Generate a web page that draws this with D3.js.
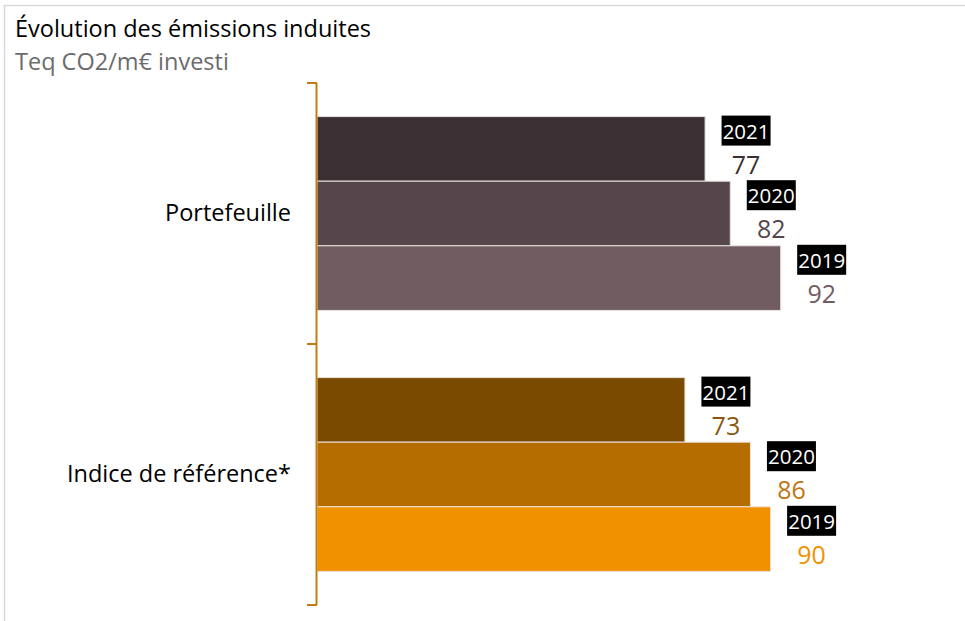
<!DOCTYPE html>
<html>
<head>
<meta charset="utf-8">
<script src="https://cdn.jsdelivr.net/npm/d3@7"></script>
<style>
  body { margin: 0; background: #fff; }
  text { font-family: "Open Sans", "Liberation Sans", sans-serif; }
</style>
</head>
<body>
<div id="chart"></div>
<script>
// data
var categories = ["Portefeuille", "Indice de référence*"];
var years = ["2021", "2020", "2019"];
var portefeuille = [77, 82, 92];
var indice = [73, 86, 90];

var colors = {
  "Portefeuille": ["#3b2f33", "#54464b", "#715c62"],
  "Indice de référence*": ["#7a4a00", "#b56d00", "#f29100"]
};
var valueColors = {
  "Portefeuille": ["#3b2f33", "#54464b", "#715c62"],
  "Indice de référence*": ["#8a5510", "#c07512", "#f29100"]
};

var rows = [];
categories.forEach(function(c, i) {
  var vals = i == 0 ? portefeuille : indice;
  years.forEach(function(y, j) {
    rows.push({cat: c, year: y, value: vals[j], j: j});
  });
});

var width = 965, height = 621;

var svg = d3.select("#chart").append("svg")
  .attr("width", width)
  .attr("height", height);

// frame
svg.append("line").attr("x1", 4.5).attr("x2", 4.5).attr("y1", 5).attr("y2", height)
  .attr("stroke", "#d9d9d9").attr("stroke-width", 1.5);
svg.append("line").attr("x1", 4).attr("x2", width).attr("y1", 5.5).attr("y2", 5.5)
  .attr("stroke", "#d9d9d9").attr("stroke-width", 1.5);

// titles
svg.append("text").attr("x", 15).attr("y", 37)
  .style("font-size", "23.5px").attr("fill", "#000")
  .text("Évolution des émissions induites");
svg.append("text").attr("x", 15).attr("y", 70)
  .style("font-size", "23.5px").attr("fill", "#6b6b6b")
  .text("Teq CO2/m€ investi");

var x0 = 317;
var x = d3.scaleLinear().domain([0, 100]).range([x0, x0 + 504]);

var y = d3.scaleBand().domain(categories).range([83, 605]);
var yInner = d3.scaleBand().domain(years).range([0, y.bandwidth()]).paddingOuter(0.52).paddingInner(0);

// bars
svg.selectAll("rect.bar").data(rows).enter().append("rect")
  .attr("class", "bar")
  .attr("x", x(0))
  .attr("y", function(d) { return y(d.cat) + yInner(d.year); })
  .attr("width", function(d) { return x(d.value) - x(0); })
  .attr("height", yInner.bandwidth())
  .attr("fill", function(d) { return colors[d.cat][d.j]; })
  .attr("stroke", "#e8e2dc")
  .attr("stroke-width", 1);

// labels
var lab = svg.selectAll("g.lab").data(rows).enter().append("g")
  .attr("class", "lab")
  .attr("transform", function(d) {
    return "translate(" + (x(d.value) + 41) + "," + (y(d.cat) + yInner(d.year)) + ")";
  });

lab.append("rect")
  .attr("x", -24.5).attr("y", -1)
  .attr("width", 49).attr("height", 30)
  .attr("fill", "#000");
lab.append("text")
  .attr("x", 0).attr("y", 22)
  .attr("text-anchor", "middle")
  .style("font-size", "20.5px")
  .attr("fill", "#fff")
  .text(function(d) { return d.year; });
lab.append("text")
  .attr("x", 0).attr("y", 57)
  .attr("text-anchor", "middle")
  .style("font-size", "25px")
  .attr("fill", function(d) { return valueColors[d.cat][d.j]; })
  .text(function(d) { return d.value; });

// axis
var axis = d3.axisLeft(y).tickSize(0).tickPadding(26);
var ax = svg.append("g").attr("transform", "translate(" + x0 + ",0)").call(axis);
ax.select(".domain").remove();
ax.selectAll("text").style("font-size", "23.5px").attr("fill", "#000")
  .style("font-family", "'Open Sans', 'Liberation Sans', sans-serif");

svg.append("line").attr("x1", x0 - 0.5).attr("x2", x0 - 0.5)
  .attr("y1", y.range()[0]).attr("y2", y.range()[1])
  .attr("stroke", "#c47c12").attr("stroke-width", 2);
var sep = [y.range()[0], y.range()[0] + y.step(), y.range()[1]];
svg.selectAll("line.tk").data(sep).enter().append("line")
  .attr("class", "tk")
  .attr("x1", x0 - 10).attr("x2", x0)
  .attr("y1", function(d) { return d; }).attr("y2", function(d) { return d; })
  .attr("stroke", "#c47c12").attr("stroke-width", 2);
</script>
</body>
</html>
